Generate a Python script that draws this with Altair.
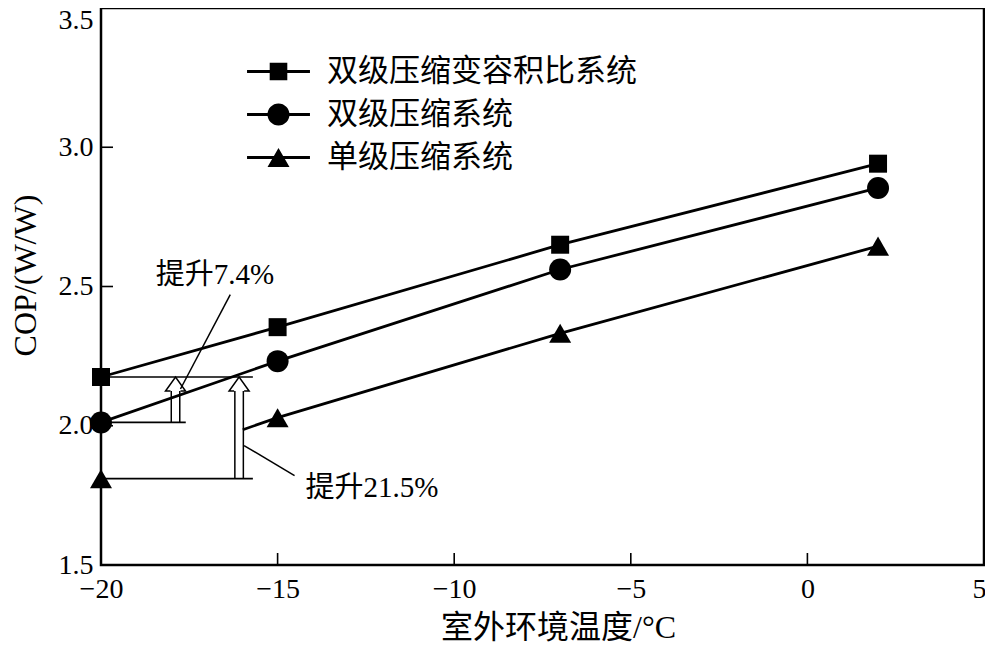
import altair as alt
import pandas as pd

# ---- values ----
temps = [-20, -15, -7, 2]
cop_vvr = [2.175, 2.354, 2.650, 2.941]   # 双级压缩变容积比系统
cop_two = [2.012, 2.232, 2.561, 2.854]   # 双级压缩系统
cop_one = [1.810, 2.029, 2.332, 2.645]   # 单级压缩系统
series_names = ["双级压缩变容积比系统", "双级压缩系统", "单级压缩系统"]

x_ticks = [-20, -15, -10, -5, 0, 5]
y_ticks = [1.5, 2.0, 2.5, 3.0, 3.5]
inner_x_ticks = [-15, -10, -5, 0]
inner_y_ticks = [2.0, 2.5, 3.0]

# annotation: reference levels, hollow arrows, leader lines, notes
ref_start = [-20, -20, -20]
ref_end = [-15.7, -17.6, -15.7]
ref_level = [2.175, 2.012, 1.810]

arrow_x = [-17.89, -16.09]
arrow_base = [2.012, 1.810]
arrow_tip = [2.175, 2.175]

leader_x1 = [-17.75, -15.95]
leader_y1 = [2.132, 1.929]
leader_x2 = [-16.34, -14.52]
leader_y2 = [2.471, 1.821]

note_text = ["提升7.4%", "提升21.5%"]
note_x = [-18.45, -14.21]
note_y = [2.543, 1.775]

W, H = 883, 557
FONT = "Liberation Serif, Noto Sans CJK SC"

rows = []
for name, vals in zip(series_names, [cop_vvr, cop_two, cop_one]):
    for t, v in zip(temps, vals):
        rows.append({"series": name, "temp": t, "cop": v})
df = pd.DataFrame(rows)

xs = alt.Scale(domain=[-20, 5], nice=False, zero=False)
ys = alt.Scale(domain=[1.5, 3.5], nice=False, zero=False)

x_axis = alt.Axis(
    values=x_ticks, format="d", title="室外环境温度/°C", ticks=False, domain=False, grid=False,
    labelFont=FONT, labelFontSize=28, labelColor="black", labelPadding=10,
    labelFlush=False, labelOverlap=False,
    labelOffset={"condition": {"test": "datum.value >= 5", "value": -5}, "value": 0},
    titleFont=FONT, titleFontSize=32, titleFontWeight="normal", titleColor="black",
    titleX=457, titleY=62, titleBaseline="middle",
)
y_axis = alt.Axis(
    values=y_ticks, format=".1f", title="COP/(W/W)", ticks=False, domain=False, grid=False,
    labelFont=FONT, labelFontSize=28, labelColor="black", labelPadding=8,
    labelFlush=False, labelOverlap=False,
    labelOffset={"condition": {"test": "datum.value >= 3.5", "value": 12},
                 "value": 0},
    titleFont=FONT, titleFontSize=32, titleFontWeight="normal", titleColor="black",
    titleX=-76, titleY=267, titleBaseline="middle",
)


def X(f):
    return alt.X(f, type="quantitative", scale=xs, axis=x_axis)


def Y(f):
    return alt.Y(f, type="quantitative", scale=ys, axis=y_axis)


single = series_names[2]
base = alt.Chart(df)

lines_main = base.transform_filter(
    f"datum.series != '{single}' || datum.temp >= -15"
).mark_line(color="black", strokeWidth=2.8).encode(x=X("temp"), y=Y("cop"), detail="series:N")

tri_first = base.transform_filter(
    f"datum.series == '{single}' && datum.temp <= -15"
).mark_line(color="black", strokeWidth=2.8, strokeDash=[0, 150, 1000]).encode(x=X("temp"), y=Y("cop"))

marker_layers = []
for name, shp, sz in zip(series_names, ["square", "circle", "triangle-up"], [324, 484, 484]):
    marker_layers.append(
        base.transform_filter(alt.datum.series == name)
        .mark_point(shape=shp, size=sz, filled=True, color="black", opacity=1)
        .encode(x=X("temp"), y=Y("cop"))
    )

ref_df = pd.DataFrame({"x1": ref_start, "x2": ref_end, "y": ref_level})
ref_lines = alt.Chart(ref_df).mark_rule(color="black", strokeWidth=1.6).encode(
    x=X("x1"), x2="x2", y=Y("y"))

arrow_df = pd.DataFrame({"x": arrow_x, "base": arrow_base, "tip": arrow_tip})
shaft_outer = alt.Chart(arrow_df).mark_rule(color="black", strokeWidth=10, y2Offset=13).encode(
    x=X("x"), y=Y("base"), y2="tip")
shaft_inner = alt.Chart(arrow_df).mark_rule(color="white", strokeWidth=7, y2Offset=13).encode(
    x=X("x"), y=Y("base"), y2="tip")
HEAD = "M-0.5,1.4L-1,1.4L0,0L1,1.4L0.5,1.4"
heads = alt.Chart(arrow_df).mark_point(
    shape=HEAD, size=400, filled=True, fill="white", stroke="black", strokeWidth=1.5, opacity=1
).encode(x=X("x"), y=Y("tip"))

lead_df = pd.DataFrame({"x1": leader_x1, "y1": leader_y1, "x2": leader_x2, "y2": leader_y2})
leaders = alt.Chart(lead_df).mark_rule(color="black", strokeWidth=1.5).encode(
    x=X("x1"), y=Y("y1"), x2="x2", y2="y2")

note_df = pd.DataFrame({"x": note_x, "y": note_y, "t": note_text})
notes = alt.Chart(note_df).mark_text(
    align="left", baseline="middle", font=FONT, fontSize=29, color="black"
).encode(x=X("x"), y=Y("y"), text="t:N")

xt = alt.Chart(pd.DataFrame({"v": inner_x_ticks})).mark_rule(color="black", strokeWidth=1.6).encode(
    x=X("v"), y=alt.value(H), y2=alt.value(H - 12))
yt = alt.Chart(pd.DataFrame({"v": inner_y_ticks})).mark_rule(color="black", strokeWidth=1.6).encode(
    y=Y("v"), x=alt.value(0), x2=alt.value(12))

LINE = "M-2.86,-0.13H2.86V0.13H-2.86Z"
leg_paths = [
    LINE + " M-0.8,-0.8H0.8V0.8H-0.8Z",
    LINE + " M1,0A1,1 0 1,1 -1,0A1,1 0 1,1 1,0Z",
    LINE + " M0,-0.87L1,0.87H-1Z",
]
legend_layer = base.transform_filter("false").mark_point(
    filled=True, color="black", opacity=1
).encode(
    x=X("temp"), y=Y("cop"),
    shape=alt.Shape(
        "series:N",
        scale=alt.Scale(domain=series_names, range=leg_paths),
        legend=alt.Legend(
            title=None, orient="none", legendX=162, legendY=48,
            symbolSize=484, symbolStrokeWidth=0, symbolFillColor="black", symbolOpacity=1,
            labelFont=FONT, labelFontSize=31, labelColor="black", labelOffset=33,
            labelLimit=0, rowPadding=11, padding=0,
        ),
    ),
)

chart = alt.layer(
    shaft_outer, shaft_inner, heads, ref_lines, lines_main, tri_first,
    *marker_layers, leaders, notes, xt, yt, legend_layer
).properties(
    width=W, height=H, background="white",
    autosize=alt.AutoSizeParams(type="none"),
    padding={"left": 93, "top": 0, "right": 1, "bottom": 79},
).configure_view(stroke="black", strokeWidth=2.5)

chart.save("out.html", embed_options={"renderer": "svg", "actions": False})
